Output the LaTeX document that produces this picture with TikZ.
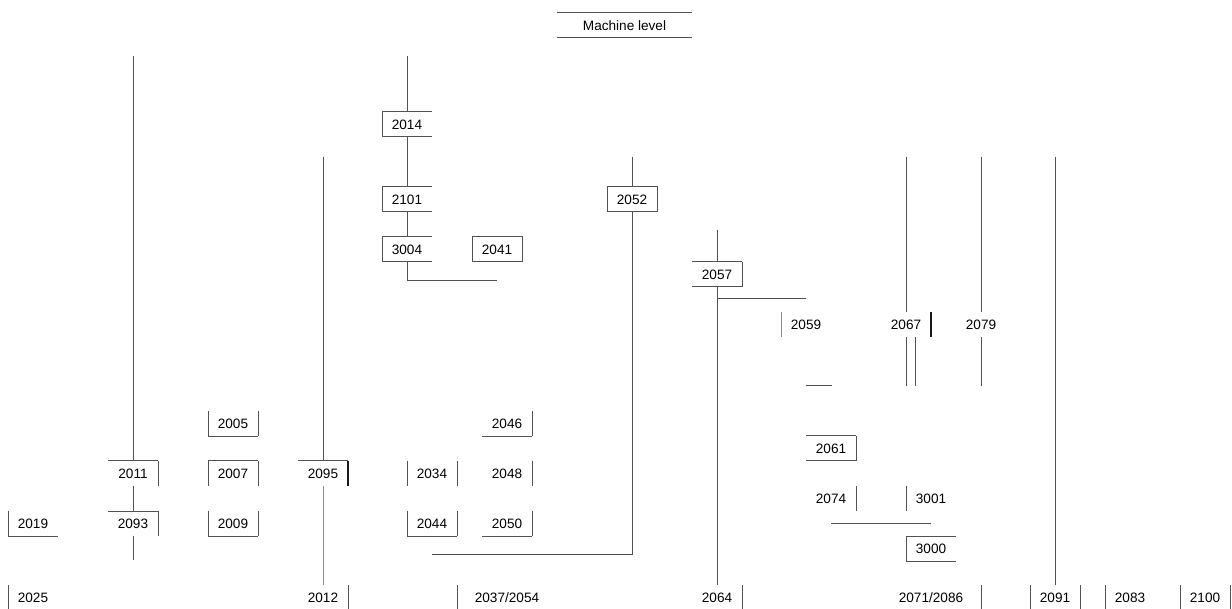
\documentclass[tikz,border=0pt]{standalone}
\usepackage{fontspec}
\setmainfont{Liberation Sans}
\begin{document}
\begin{tikzpicture}[x=0.75pt,y=-0.75pt,
  box/.style={minimum width=37.5pt,minimum height=18.75pt,inner sep=0pt,outer sep=0pt,font=\fontsize{10.2}{12}\selectfont,text=black},
  wbox/.style={box,minimum width=75pt},
  ln/.style={draw=black!68,line width=0.75pt},
  lln/.style={draw=black!45,line width=0.75pt},
  dln/.style={draw=black!90,line width=1.2pt}]
\newcommand\bordL[2][ln]{\draw[#1] (#2.north west) -- (#2.south west);}
\newcommand\bordR[2][ln]{\draw[#1] (#2.north east) -- (#2.south east);}
\newcommand\bordT[2][ln]{\draw[#1] (#2.north west) -- (#2.north east);}
\newcommand\bordB[2][ln]{\draw[#1] (#2.south west) -- (#2.south east);}
\useasboundingbox (0,0) rectangle (1232,609);
\fill[white] (0,0) rectangle (1232,609);
% nodes
\node[box,minimum width=101.25pt] (ml) at (624.5,25.5) {Machine level};
\node[box] (n2014) at (407,124.5) {2014};
\node[box] (n2101) at (407,199.5) {2101};
\node[box] (n3004) at (407,249.5) {3004};
\node[box] (n2041) at (497,249.5) {2041};
\node[box] (n2052) at (632,199.5) {2052};
\node[box] (n2057) at (717,274.5) {2057};
\node[box] (n2059) at (806,324.5) {2059};
\node[box] (n2067) at (906,324.5) {2067};
\node[box] (n2079) at (981,324.5) {2079};
\node[box] (n2005) at (233,424) {2005};
\node[box] (n2046) at (507,424) {2046};
\node[box] (n2061) at (831,448.5) {2061};
\node[box] (n2011) at (133,473.5) {2011};
\node[box] (n2007) at (233,473.5) {2007};
\node[box] (n2095) at (323,473.5) {2095};
\node[box] (n2034) at (432,473.5) {2034};
\node[box] (n2048) at (507,473.5) {2048};
\node[box] (n2074) at (831,498.5) {2074};
\node[box] (n3001) at (931,498.5) {3001};
\node[box] (n2019) at (33,523.5) {2019};
\node[box] (n2093) at (133,523.5) {2093};
\node[box] (n2009) at (233,523.5) {2009};
\node[box] (n2044) at (432,523.5) {2044};
\node[box] (n2050) at (507,523.5) {2050};
\node[box] (n3000) at (931,548.5) {3000};
\node[box] (n2025) at (33,597.5) {2025};
\node[box] (n2012) at (323,597.5) {2012};
\node[wbox] (n2037) at (507,597.5) {2037/2054};
\node[box] (n2064) at (717,597.5) {2064};
\node[wbox] (n2071) at (931,597.5) {2071/2086};
\node[box] (n2091) at (1055,597.5) {2091};
\node[box] (n2083) at (1130,597.5) {2083};
\node[box] (n2100) at (1205,597.5) {2100};
% borders
\bordT{ml}\bordB{ml}
\bordL{n2014}\bordT{n2014}\bordB{n2014}
\bordL{n2101}\bordT{n2101}\bordB{n2101}
\bordL{n3004}\bordT{n3004}\bordB{n3004}
\draw[ln] (n2041.north west) rectangle (n2041.south east);
\draw[ln] (n2052.north west) rectangle (n2052.south east);
\bordT{n2057}\bordR{n2057}\bordB{n2057}
\bordL[lln]{n2059}
\bordR[dln]{n2067}
\bordL{n2005}\bordR{n2005}\bordB{n2005}
\bordR{n2046}\bordB{n2046}
\bordT{n2061}\bordR{n2061}\bordB{n2061}
\bordT{n2011}\bordR{n2011}
\bordT{n2007}\bordL{n2007}\bordR{n2007}
\bordT{n2095}\bordR[dln]{n2095}
\bordL{n2034}\bordR{n2034}
\bordR{n2048}
\bordR{n2074}
\bordL{n3001}
\bordL{n2019}\bordB{n2019}
\bordT{n2093}\bordR{n2093}
\bordL{n2009}\bordR{n2009}\bordB{n2009}
\bordL{n2044}\bordR{n2044}\bordB{n2044}
\bordR{n2050}\bordB{n2050}
\bordL{n3000}\bordT{n3000}\bordB{n3000}
\bordL{n2025}
\bordR{n2012}
\bordL{n2037}
\bordR{n2064}
\bordR{n2071}
\bordL{n2091}\bordR{n2091}
\bordL{n2083}
\bordL{n2100}\bordR{n2100}
% free ends
\coordinate (t133) at (133,56);
\coordinate (b133) at (133,560);
\coordinate (t407) at (407,56);
\coordinate (c3004) at (407,281);
\coordinate (e3004) at (497,281);
\coordinate (t323) at (323,157);
\coordinate (t632) at (632,157);
\coordinate (c2052) at (632,554);
\coordinate (e2052) at (432,554);
\coordinate (t716) at (717,230);
\coordinate (j2057) at (717,299);
\coordinate (e2057) at (806,299);
\coordinate (t906) at (906,157);
\coordinate (b906) at (906,386);
\coordinate (a915) at (915,337);
\coordinate (b915) at (915,386);
\coordinate (s1) at (806,386);
\coordinate (s2) at (832,386);
\coordinate (t980) at (981,157);
\coordinate (b980) at (981,386);
\coordinate (t1055) at (1055,157);
\coordinate (h1) at (831,523);
\coordinate (h2) at (931,523);
% connectors
\draw[ln] (t133) -- (n2011.north);
\draw[ln] (n2011.south) -- (n2093.north);
\draw[ln] (n2093.south) -- (b133);
\draw[ln] (t407) -- (n2014.north);
\draw[ln] (n2014.south) -- (n2101.north);
\draw[ln] (n2101.south) -- (n3004.north);
\draw[ln] (n3004.south) -- (c3004) -- (e3004);
\draw[ln] (t323) -- (n2095.north);
\draw[lln] (n2095.south) -- (n2012.north);
\draw[ln] (t632) -- (n2052.north);
\draw[ln] (n2052.south) -- (c2052) -- (e2052);
\draw[ln] (t716) -- (n2057.north);
\draw[ln] (n2057.south) -- (n2064.north);
\draw[ln] (j2057) -- (e2057);
\draw[ln] (t906) -- (n2067.north);
\draw[ln] (n2067.south) -- (b906);
\draw[ln] (a915) -- (b915);
\draw[ln] (s1) -- (s2);
\draw[ln] (t980) -- (n2079.north);
\draw[ln] (n2079.south) -- (b980);
\draw[ln] (t1055) -- (n2091.north);
\draw[ln] (h1) -- (h2);
\end{tikzpicture}
\end{document}
